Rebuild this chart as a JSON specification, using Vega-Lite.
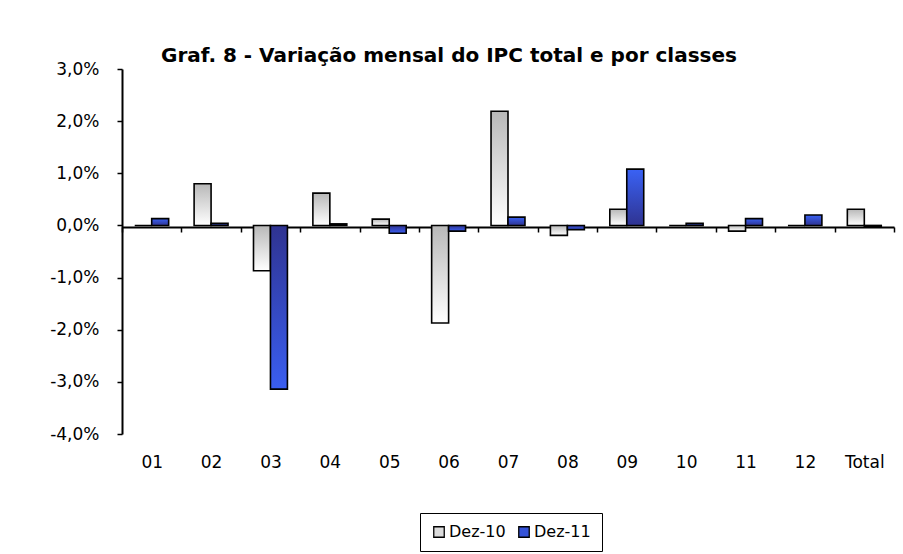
{
  "$schema": "https://vega.github.io/schema/vega-lite/v6.json",
  "width": 772,
  "height": 365,
  "padding": {"left": 49, "top": 46, "right": 5, "bottom": 5},
  "autosize": {"type": "pad"},
  "background": "white",
  "title": {
    "text": "Graf. 8 - Variação mensal do IPC total e por classes",
    "font": "DejaVu Sans",
    "fontSize": 20,
    "fontWeight": "bold",
    "color": "black",
    "anchor": "middle",
    "dx": -59,
    "offset": -6
  },
  "data": {
    "values": [
      {"classe": "01", "serie": "Dez-10", "valor": 0.0},
      {"classe": "01", "serie": "Dez-11", "valor": 0.0013},
      {"classe": "02", "serie": "Dez-10", "valor": 0.008},
      {"classe": "02", "serie": "Dez-11", "valor": 0.0004},
      {"classe": "03", "serie": "Dez-10", "valor": -0.0087},
      {"classe": "03", "serie": "Dez-11", "valor": -0.0314},
      {"classe": "04", "serie": "Dez-10", "valor": 0.0062},
      {"classe": "04", "serie": "Dez-11", "valor": 0.0003},
      {"classe": "05", "serie": "Dez-10", "valor": 0.0012},
      {"classe": "05", "serie": "Dez-11", "valor": -0.0015},
      {"classe": "06", "serie": "Dez-10", "valor": -0.0187},
      {"classe": "06", "serie": "Dez-11", "valor": -0.0011},
      {"classe": "07", "serie": "Dez-10", "valor": 0.0219},
      {"classe": "07", "serie": "Dez-11", "valor": 0.0016},
      {"classe": "08", "serie": "Dez-10", "valor": -0.0019},
      {"classe": "08", "serie": "Dez-11", "valor": -0.0008},
      {"classe": "09", "serie": "Dez-10", "valor": 0.0031},
      {"classe": "09", "serie": "Dez-11", "valor": 0.0108},
      {"classe": "10", "serie": "Dez-10", "valor": 0.0},
      {"classe": "10", "serie": "Dez-11", "valor": 0.0004},
      {"classe": "11", "serie": "Dez-10", "valor": -0.0011},
      {"classe": "11", "serie": "Dez-11", "valor": 0.0013},
      {"classe": "12", "serie": "Dez-10", "valor": 0.0},
      {"classe": "12", "serie": "Dez-11", "valor": 0.002},
      {"classe": "Total", "serie": "Dez-10", "valor": 0.0031},
      {"classe": "Total", "serie": "Dez-11", "valor": -0.0003}
    ]
  },
  "mark": {"type": "bar", "stroke": "black", "strokeWidth": 1.6},
  "encoding": {
    "x": {
      "field": "classe",
      "type": "nominal",
      "sort": null,
      "scale": {"paddingInner": 0, "paddingOuter": 0},
      "axis": {
        "title": null,
        "labelAngle": 0,
        "tickBand": "extent",
        "offset": -207,
        "domainColor": "black",
        "domainWidth": 2,
        "tickColor": "black",
        "tickWidth": 1.5,
        "tickSize": 5,
        "labelPadding": 222,
        "labelFont": "DejaVu Sans",
        "labelFontSize": 17,
        "labelColor": "black"
      }
    },
    "xOffset": {
      "field": "serie",
      "type": "nominal",
      "scale": {"paddingInner": 0, "paddingOuter": 0.75}
    },
    "y": {
      "field": "valor",
      "type": "quantitative",
      "scale": {"domain": [-0.04, 0.03], "nice": false},
      "axis": {
        "title": null,
        "format": ".1%",
        "values": [-0.04, -0.03, -0.02, -0.01, 0, 0.01, 0.02, 0.03],
        "grid": false,
        "domainColor": "black",
        "domainWidth": 2,
        "tickColor": "black",
        "tickWidth": 1.5,
        "tickSize": 5,
        "labelPadding": 18,
        "labelFont": "DejaVu Sans",
        "labelFontSize": 17,
        "labelColor": "black"
      }
    },
    "fill": {
      "condition": [
        {
          "test": "datum.serie === 'Dez-11' && datum.valor < 0",
          "value": {
            "gradient": "linear", "x1": 0, "y1": 0, "x2": 0, "y2": 1,
            "stops": [{"offset": 0, "color": "#2f3391"}, {"offset": 1, "color": "#3a5ef0"}]
          }
        },
        {
          "test": "datum.serie === 'Dez-11'",
          "value": {
            "gradient": "linear", "x1": 0, "y1": 0, "x2": 0, "y2": 1,
            "stops": [{"offset": 0, "color": "#3a62f5"}, {"offset": 1, "color": "#2f3391"}]
          }
        },
        {
          "test": "datum.serie === 'Dez-10'",
          "value": {
            "gradient": "linear", "x1": 0, "y1": 0, "x2": 0, "y2": 1,
            "stops": [{"offset": 0, "color": "#b8b8b8"}, {"offset": 1, "color": "#ffffff"}]
          }
        }
      ],
      "field": "serie",
      "type": "nominal",
      "scale": {"range": ["#dcdcdc", "#3553d8"]},
      "legend": {
        "orient": "none",
        "legendX": 298,
        "legendY": 444,
        "direction": "horizontal",
        "title": null,
        "strokeColor": "black",
        "fillColor": "white",
        "padding": 11,
        "symbolType": "square",
        "symbolSize": 110,
        "symbolStrokeColor": "black",
        "symbolStrokeWidth": 1.3,
        "labelFont": "DejaVu Sans",
        "labelFontSize": 16,
        "labelColor": "black",
        "labelOffset": 2,
        "columnPadding": 10
      }
    }
  },
  "config": {
    "view": {"stroke": null},
    "locale": {
      "number": {
        "decimal": ",",
        "thousands": ".",
        "grouping": [3],
        "currency": ["", " €"],
        "minus": "-"
      }
    }
  }
}
